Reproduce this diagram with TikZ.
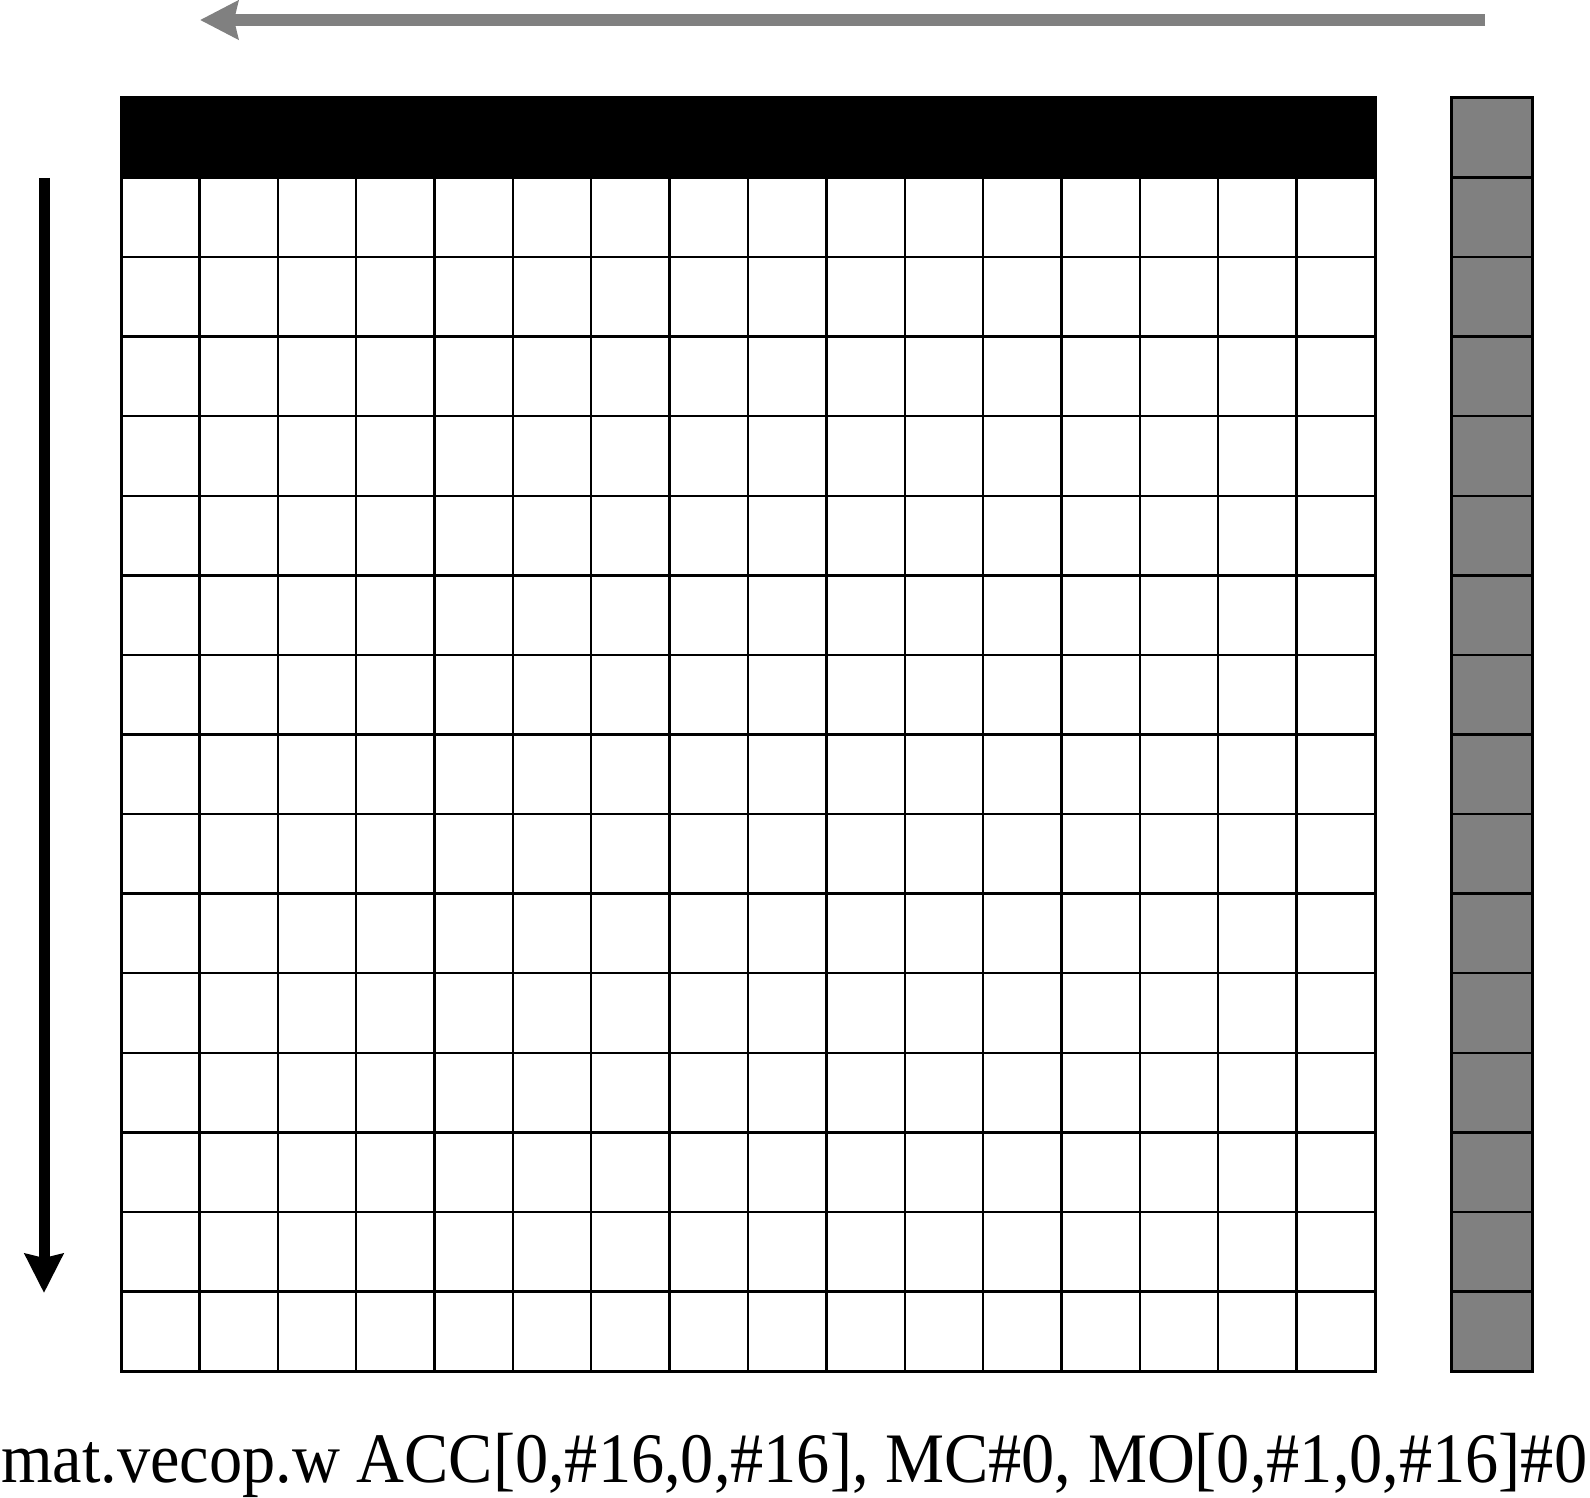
\documentclass[tikz,border=0pt]{standalone}
\usepackage{fontspec}
\usepackage{graphicx}
\setmainfont{Liberation Serif}
\usetikzlibrary{arrows.meta}
\definecolor{midgray}{RGB}{128,128,128}
\tikzset{
  gridline/.style={line width=2.4pt, black},
  frameline/.style={line width=3pt, black},
  grayarrow/.style={line width=12pt, midgray, -{Stealth[length=38pt, width=38pt, inset=4pt]}},
  blackarrow/.style={line width=11pt, black, -{Stealth[length=39pt, width=38pt, inset=4pt]}},
  caption/.style={inner sep=0pt, anchor=base west, font=\fontsize{71pt}{80pt}\selectfont}
}
\begin{document}
\begin{tikzpicture}[x=1pt, y=-1pt]
\useasboundingbox (0,0) rectangle (1590,1498);
% matrix
\fill[black] (121,98) rectangle (1375,178);
\foreach \i in {1,...,15} {
  \draw[gridline] ({121+\i*78.375},178) -- ({121+\i*78.375},1371);
  \draw[gridline] (121,{98+\i*79.5625}) -- (1375,{98+\i*79.5625});
}
\draw[frameline] (121,98) rectangle (1375,1371);
% gray vector column
\fill[midgray] (1451,98) rectangle (1532,1371);
\foreach \i in {1,...,15} {
  \draw[gridline] (1451,{98+\i*79.5625}) -- (1532,{98+\i*79.5625});
}
\draw[frameline] (1451,98) rectangle (1532,1371);
% arrows
\coordinate (gs) at (1485,20);
\coordinate (ge) at (200,20);
\draw[grayarrow] (gs) -- (ge);
\coordinate (bs) at (44,178);
\coordinate (be) at (44,1293);
\draw[blackarrow] (bs) -- (be);
% caption
\node[caption] (cap) at (1,1482) {\resizebox{1586pt}{\height}{mat.vecop.w ACC[0,\#16,0,\#16], MC\#0, MO[0,\#1,0,\#16]\#0}};
\end{tikzpicture}
\end{document}
